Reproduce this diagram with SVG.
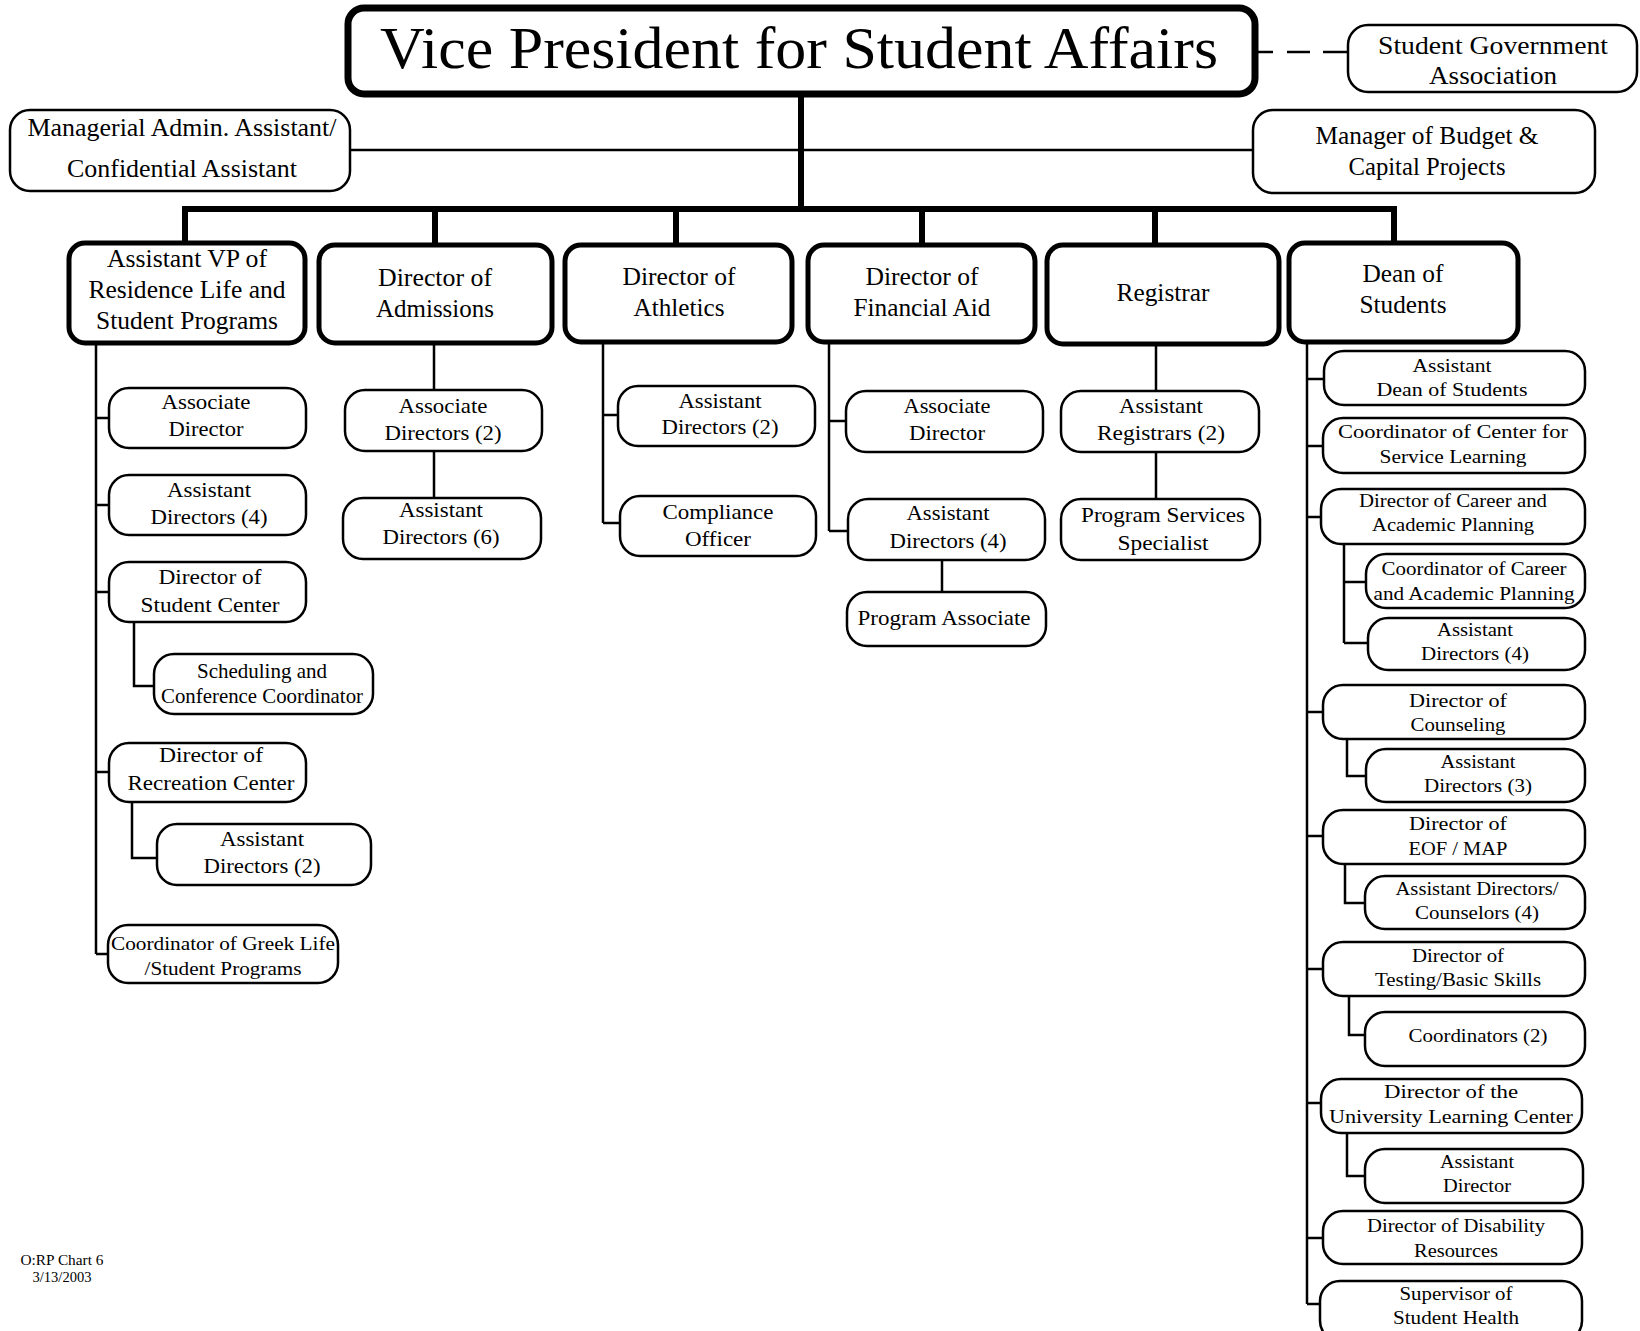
<svg xmlns="http://www.w3.org/2000/svg" width="1640" height="1331" viewBox="0 0 1640 1331">
<style>
text{font-family:"Liberation Serif","Times New Roman",serif;fill:#000;text-anchor:middle}
.b{fill:#fff;stroke:#000;stroke-width:2.5}
.l2{stroke-width:5}
.vp{stroke-width:7}
.c{stroke:#000;stroke-width:2.5;fill:none}
.k{stroke:#000;stroke-width:6;fill:none}
.s26{font-size:26px}
.s25{font-size:25px}
.s22{font-size:22px}
.s21{font-size:21px}
.s19{font-size:19px}
.ft{font-size:14px}
</style>
<rect width="1640" height="1331" fill="#fff"/>
<g id="connectors">
<path class="k" d="M801,94V209M182,209H1397M185,209V243M435,209V245M676,209V245M922,209V245M1155,209V245M1394,209V243"/>
<path class="c" d="M350,150H1253"/>
<path class="c" d="M1255,52H1273M1287,52H1310M1323,52H1348"/>
<path class="c" d="M96,343V954M96,418H109M96,505H109M96,592H109M96,772H109M96,954H108M134,622V686H154M132,802V858H157"/>
<path class="c" d="M434,343V390M434,451V498"/>
<path class="c" d="M603,342V523M603,415H618M603,523H620"/>
<path class="c" d="M829,342V531M829,421H846M829,531H848M942,560V592"/>
<path class="c" d="M1156,344V391M1156,452V499"/>
<path class="c" d="M1307,342V1304M1307,379H1324M1307,446H1323M1307,517H1321M1307,712H1323M1307,836H1323M1307,969H1323M1307,1103H1321M1307,1238H1323M1307,1304H1320"/>
<path class="c" d="M1344,544V643M1344,582H1366M1344,643H1368M1347,739V776H1366M1345,864V903H1365M1349,996V1035H1365M1347,1133V1176H1365"/>
</g>
<g id="vp"><rect class="b vp" x="348" y="8" width="907" height="86" rx="16"/><text x="799" y="68" font-size="60" textLength="838" lengthAdjust="spacingAndGlyphs">Vice President for Student Affairs</text></g>
<g id="sga"><rect class="b" x="1348" y="25" width="289" height="67" rx="20"/><text class="s26" x="1493" y="54" textLength="230" lengthAdjust="spacingAndGlyphs">Student Government</text><text class="s26" x="1493" y="84" textLength="128" lengthAdjust="spacingAndGlyphs">Association</text></g>
<g id="managerial"><rect class="b" x="10" y="110" width="340" height="81" rx="20"/><text class="s25" x="182" y="136" textLength="309" lengthAdjust="spacingAndGlyphs">Managerial Admin. Assistant/</text><text class="s25" x="182" y="177" textLength="230" lengthAdjust="spacingAndGlyphs">Confidential Assistant</text></g>
<g id="budget"><rect class="b" x="1253" y="110" width="342" height="83" rx="20"/><text class="s25" x="1427" y="144" textLength="223" lengthAdjust="spacingAndGlyphs">Manager of Budget &amp;</text><text class="s25" x="1427" y="175" textLength="157" lengthAdjust="spacingAndGlyphs">Capital Projects</text></g>

<g id="avp"><rect class="b l2" x="69" y="243" width="236" height="100" rx="16"/><text class="s26" x="187" y="267" textLength="160" lengthAdjust="spacingAndGlyphs">Assistant VP of</text><text class="s26" x="187" y="298" textLength="197" lengthAdjust="spacingAndGlyphs">Residence Life and</text><text class="s26" x="187" y="329" textLength="182" lengthAdjust="spacingAndGlyphs">Student Programs</text></g>
<g id="admissions"><rect class="b l2" x="319" y="245" width="233" height="98" rx="16"/><text class="s26" x="435" y="286" textLength="114" lengthAdjust="spacingAndGlyphs">Director of</text><text class="s26" x="435" y="317" textLength="118" lengthAdjust="spacingAndGlyphs">Admissions</text></g>
<g id="athletics"><rect class="b l2" x="565" y="245" width="227" height="97" rx="16"/><text class="s26" x="679" y="285" textLength="113" lengthAdjust="spacingAndGlyphs">Director of</text><text class="s26" x="679" y="316" textLength="91" lengthAdjust="spacingAndGlyphs">Athletics</text></g>
<g id="finaid"><rect class="b l2" x="808" y="245" width="227" height="97" rx="16"/><text class="s26" x="922" y="285" textLength="113" lengthAdjust="spacingAndGlyphs">Director of</text><text class="s26" x="922" y="316" textLength="137" lengthAdjust="spacingAndGlyphs">Financial Aid</text></g>
<g id="registrar"><rect class="b l2" x="1047" y="245" width="232" height="99" rx="16"/><text class="s26" x="1163" y="301" textLength="93" lengthAdjust="spacingAndGlyphs">Registrar</text></g>
<g id="dean"><rect class="b l2" x="1289" y="243" width="229" height="99" rx="16"/><text class="s26" x="1403" y="282" textLength="81" lengthAdjust="spacingAndGlyphs">Dean of</text><text class="s26" x="1403" y="313" textLength="87" lengthAdjust="spacingAndGlyphs">Students</text></g>

<g id="avp-assoc"><rect class="b" x="109" y="388" width="197" height="60" rx="20"/><text class="s21" x="206" y="409" textLength="89" lengthAdjust="spacingAndGlyphs">Associate</text><text class="s21" x="206" y="436" textLength="75" lengthAdjust="spacingAndGlyphs">Director</text></g>
<g id="avp-asst4"><rect class="b" x="109" y="475" width="197" height="60" rx="20"/><text class="s21" x="209" y="497" textLength="84" lengthAdjust="spacingAndGlyphs">Assistant</text><text class="s21" x="209" y="524" textLength="117" lengthAdjust="spacingAndGlyphs">Directors (4)</text></g>
<g id="studentcenter"><rect class="b" x="109" y="562" width="197" height="60" rx="20"/><text class="s21" x="210" y="584" textLength="103" lengthAdjust="spacingAndGlyphs">Director of</text><text class="s21" x="210" y="612" textLength="139" lengthAdjust="spacingAndGlyphs">Student Center</text></g>
<g id="scheduling"><rect class="b" x="154" y="654" width="219" height="60" rx="20"/><text class="s21" x="262" y="678" textLength="130" lengthAdjust="spacingAndGlyphs">Scheduling and</text><text class="s21" x="262" y="703" textLength="202" lengthAdjust="spacingAndGlyphs">Conference Coordinator</text></g>
<g id="reccenter"><rect class="b" x="109" y="743" width="197" height="59" rx="20"/><text class="s21" x="211" y="762" textLength="104" lengthAdjust="spacingAndGlyphs">Director of</text><text class="s21" x="211" y="790" textLength="167" lengthAdjust="spacingAndGlyphs">Recreation Center</text></g>
<g id="rec-asst2"><rect class="b" x="157" y="824" width="214" height="61" rx="20"/><text class="s21" x="262" y="846" textLength="84" lengthAdjust="spacingAndGlyphs">Assistant</text><text class="s21" x="262" y="873" textLength="117" lengthAdjust="spacingAndGlyphs">Directors (2)</text></g>
<g id="greek"><rect class="b" x="108" y="925" width="230" height="58" rx="20"/><text class="s19" x="223" y="950" textLength="224" lengthAdjust="spacingAndGlyphs">Coordinator  of Greek Life</text><text class="s19" x="223" y="975" textLength="157" lengthAdjust="spacingAndGlyphs">/Student Programs</text></g>

<g id="adm-assoc2"><rect class="b" x="345" y="390" width="197" height="61" rx="20"/><text class="s22" x="443" y="413" textLength="89" lengthAdjust="spacingAndGlyphs">Associate</text><text class="s22" x="443" y="440" textLength="117" lengthAdjust="spacingAndGlyphs">Directors (2)</text></g>
<g id="adm-asst6"><rect class="b" x="343" y="498" width="198" height="61" rx="20"/><text class="s22" x="441" y="517" textLength="84" lengthAdjust="spacingAndGlyphs">Assistant</text><text class="s22" x="441" y="544" textLength="117" lengthAdjust="spacingAndGlyphs">Directors (6)</text></g>

<g id="ath-asst2"><rect class="b" x="618" y="386" width="197" height="60" rx="20"/><text class="s22" x="720" y="408" textLength="83" lengthAdjust="spacingAndGlyphs">Assistant</text><text class="s22" x="720" y="434" textLength="117" lengthAdjust="spacingAndGlyphs">Directors (2)</text></g>
<g id="compliance"><rect class="b" x="620" y="496" width="196" height="60" rx="20"/><text class="s22" x="718" y="519" textLength="111" lengthAdjust="spacingAndGlyphs">Compliance</text><text class="s22" x="718" y="546" textLength="66" lengthAdjust="spacingAndGlyphs">Officer</text></g>

<g id="fa-assoc"><rect class="b" x="846" y="391" width="197" height="61" rx="20"/><text class="s22" x="947" y="413" textLength="87" lengthAdjust="spacingAndGlyphs">Associate</text><text class="s22" x="947" y="440" textLength="76" lengthAdjust="spacingAndGlyphs">Director</text></g>
<g id="fa-asst4"><rect class="b" x="848" y="499" width="197" height="61" rx="20"/><text class="s22" x="948" y="520" textLength="83" lengthAdjust="spacingAndGlyphs">Assistant</text><text class="s22" x="948" y="548" textLength="117" lengthAdjust="spacingAndGlyphs">Directors (4)</text></g>
<g id="progassoc"><rect class="b" x="847" y="592" width="199" height="54" rx="20"/><text class="s22" x="944" y="625" textLength="173" lengthAdjust="spacingAndGlyphs">Program Associate</text></g>

<g id="reg-asst2"><rect class="b" x="1061" y="391" width="198" height="61" rx="20"/><text class="s22" x="1161" y="413" textLength="84" lengthAdjust="spacingAndGlyphs">Assistant</text><text class="s22" x="1161" y="440" textLength="128" lengthAdjust="spacingAndGlyphs">Registrars (2)</text></g>
<g id="progservices"><rect class="b" x="1061" y="499" width="199" height="61" rx="20"/><text class="s22" x="1163" y="522" textLength="164" lengthAdjust="spacingAndGlyphs">Program Services</text><text class="s22" x="1163" y="550" textLength="91" lengthAdjust="spacingAndGlyphs">Specialist</text></g>

<g id="asstdean"><rect class="b" x="1324" y="351" width="261" height="54" rx="20"/><text class="s19" x="1452" y="372" textLength="79" lengthAdjust="spacingAndGlyphs">Assistant</text><text class="s19" x="1452" y="396" textLength="151" lengthAdjust="spacingAndGlyphs">Dean of Students</text></g>
<g id="servicelearning"><rect class="b" x="1323" y="418" width="262" height="55" rx="20"/><text class="s19" x="1453" y="438" textLength="230" lengthAdjust="spacingAndGlyphs">Coordinator of Center for</text><text class="s19" x="1453" y="463" textLength="147" lengthAdjust="spacingAndGlyphs">Service Learning</text></g>
<g id="career"><rect class="b" x="1321" y="489" width="264" height="55" rx="20"/><text class="s19" x="1453" y="507" textLength="188" lengthAdjust="spacingAndGlyphs">Director of Career and</text><text class="s19" x="1453" y="531" textLength="162" lengthAdjust="spacingAndGlyphs">Academic Planning</text></g>
<g id="career-coord"><rect class="b" x="1366" y="554" width="219" height="54" rx="20"/><text class="s19" x="1474" y="575" textLength="185" lengthAdjust="spacingAndGlyphs">Coordinator of Career</text><text class="s19" x="1474" y="600" textLength="201" lengthAdjust="spacingAndGlyphs">and Academic Planning</text></g>
<g id="career-asst4"><rect class="b" x="1368" y="618" width="217" height="52" rx="20"/><text class="s19" x="1475" y="636" textLength="76" lengthAdjust="spacingAndGlyphs">Assistant</text><text class="s19" x="1475" y="660" textLength="108" lengthAdjust="spacingAndGlyphs">Directors (4)</text></g>
<g id="counseling"><rect class="b" x="1323" y="685" width="262" height="54" rx="20"/><text class="s19" x="1458" y="707" textLength="98" lengthAdjust="spacingAndGlyphs">Director  of</text><text class="s19" x="1458" y="731" textLength="95" lengthAdjust="spacingAndGlyphs">Counseling</text></g>
<g id="couns-asst3"><rect class="b" x="1366" y="749" width="219" height="53" rx="20"/><text class="s19" x="1478" y="768" textLength="75" lengthAdjust="spacingAndGlyphs">Assistant</text><text class="s19" x="1478" y="792" textLength="108" lengthAdjust="spacingAndGlyphs">Directors (3)</text></g>
<g id="eof"><rect class="b" x="1323" y="810" width="262" height="54" rx="20"/><text class="s19" x="1458" y="830" textLength="98" lengthAdjust="spacingAndGlyphs">Director  of</text><text class="s19" x="1458" y="855" textLength="99" lengthAdjust="spacingAndGlyphs">EOF / MAP</text></g>
<g id="eof-asst4"><rect class="b" x="1365" y="876" width="220" height="53" rx="20"/><text class="s19" x="1477" y="895" textLength="163" lengthAdjust="spacingAndGlyphs">Assistant Directors/</text><text class="s19" x="1477" y="919" textLength="124" lengthAdjust="spacingAndGlyphs">Counselors (4)</text></g>
<g id="testing"><rect class="b" x="1323" y="942" width="262" height="54" rx="20"/><text class="s19" x="1458" y="962" textLength="92" lengthAdjust="spacingAndGlyphs">Director of</text><text class="s19" x="1458" y="986" textLength="166" lengthAdjust="spacingAndGlyphs">Testing/Basic Skills</text></g>
<g id="testing-coord2"><rect class="b" x="1365" y="1012" width="220" height="54" rx="20"/><text class="s19" x="1478" y="1042" textLength="139" lengthAdjust="spacingAndGlyphs">Coordinators (2)</text></g>
<g id="ulc"><rect class="b" x="1321" y="1079" width="261" height="54" rx="20"/><text class="s19" x="1451" y="1098" textLength="134" lengthAdjust="spacingAndGlyphs">Director  of  the</text><text class="s19" x="1451" y="1123" textLength="244" lengthAdjust="spacingAndGlyphs">University Learning Center</text></g>
<g id="ulc-asst"><rect class="b" x="1365" y="1149" width="218" height="54" rx="20"/><text class="s19" x="1477" y="1168" textLength="74" lengthAdjust="spacingAndGlyphs">Assistant</text><text class="s19" x="1477" y="1192" textLength="68" lengthAdjust="spacingAndGlyphs">Director</text></g>
<g id="disability"><rect class="b" x="1323" y="1211" width="259" height="53" rx="20"/><text class="s19" x="1456" y="1232" textLength="178" lengthAdjust="spacingAndGlyphs">Director of Disability</text><text class="s19" x="1456" y="1257" textLength="84" lengthAdjust="spacingAndGlyphs">Resources</text></g>
<g id="health"><rect class="b" x="1320" y="1281" width="262" height="60" rx="20"/><text class="s19" x="1456" y="1300" textLength="113" lengthAdjust="spacingAndGlyphs">Supervisor of</text><text class="s19" x="1456" y="1324" textLength="126" lengthAdjust="spacingAndGlyphs">Student Health</text></g>

<g id="footer"><text class="ft" x="62" y="1265" textLength="83" lengthAdjust="spacingAndGlyphs">O:RP Chart 6</text><text class="ft" x="62" y="1282" textLength="59" lengthAdjust="spacingAndGlyphs">3/13/2003</text></g>
</svg>
